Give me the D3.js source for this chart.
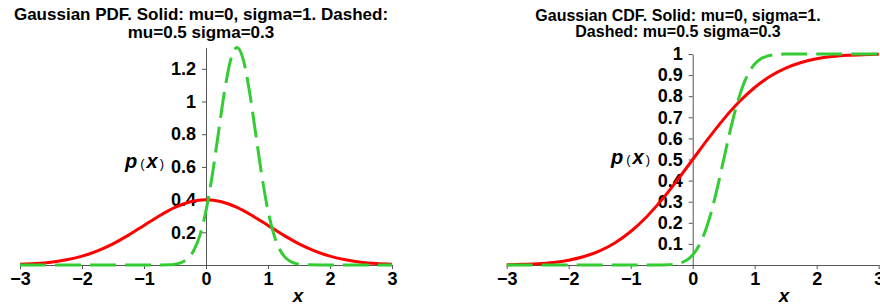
<!DOCTYPE html>
<html>
<head>
<meta charset="utf-8">
<script src="https://cdn.jsdelivr.net/npm/d3@7"></script>
<style>
  html, body { margin: 0; padding: 0; background: #fff; }
  svg { display: block; }
  text { font-family: "Liberation Sans", Arial, Helvetica, sans-serif; }
</style>
</head>
<body>
<svg id="chart" width="880" height="305"></svg>
<script>
// ---- Data ----
const solidX = [-3,-2.75,-2.5,-2.25,-2,-1.75,-1.5,-1.25,-1,-0.75,-0.5,-0.25,0,0.25,0.5,0.75,1,1.25,1.5,1.75,2,2.25,2.5,2.75,3];
const pdfSolid = [0.0044,0.0091,0.0175,0.0317,0.0540,0.0863,0.1295,0.1826,0.2420,0.3011,0.3521,0.3867,0.3989,0.3867,0.3521,0.3011,0.2420,0.1826,0.1295,0.0863,0.0540,0.0317,0.0175,0.0091,0.0044];
const cdfSolid = [0.0013,0.0030,0.0062,0.0122,0.0228,0.0401,0.0668,0.1056,0.1587,0.2266,0.3085,0.4013,0.5,0.5987,0.6915,0.7734,0.8413,0.8944,0.9332,0.9599,0.9772,0.9878,0.9938,0.9970,0.9987];

const dashedX = [-3,-1,-0.6,-0.5,-0.4,-0.3,-0.2,-0.1,0,0.1,0.2,0.3,0.4,0.5,0.6,0.7,0.8,0.9,1.0,1.1,1.2,1.3,1.4,1.5,1.6,2,3];
const pdfDashed = [0,0,0.0016,0.0051,0.0148,0.0380,0.0874,0.1800,0.3317,0.5467,0.8066,1.0648,1.2580,1.3298,1.2580,1.0648,0.8066,0.5467,0.3317,0.1800,0.0874,0.0380,0.0148,0.0051,0.0016,0,0];
const cdfDashed = [0,0,0.0001,0.0004,0.0013,0.0038,0.0098,0.0228,0.0478,0.0912,0.1587,0.2525,0.3694,0.5,0.6306,0.7475,0.8413,0.9088,0.9522,0.9772,0.9902,0.9962,0.9987,0.9996,0.9999,1,1];

const xTicks = [-3,-2,-1,0,1,2,3];
const xTickLabels = ["\u22123","\u22122","\u22121","0","1","2","3"];
const pdfYTicks = [0.2,0.4,0.6,0.8,1,1.2];
const pdfYTickLabels = ["0.2","0.4","0.6","0.8","1","1.2"];
const cdfYTicks = [0.1,0.2,0.3,0.4,0.5,0.6,0.7,0.8,0.9,1];
const cdfYTickLabels = ["0.1","0.2","0.3","0.4","0.5","0.6","0.7","0.8","0.9","1"];

const pdfTitle = ["Gaussian PDF. Solid: mu=0, sigma=1. Dashed:", "mu=0.5 sigma=0.3"];
const cdfTitle = ["Gaussian CDF. Solid: mu=0, sigma=1.", "Dashed: mu=0.5 sigma=0.3"];

// ---- Drawing ----
const svg = d3.select("#chart");

function panel(cfg) {
  const g = svg.append("g");
  const x = d3.scaleLinear().domain([-3, 3]).range(cfg.xr);
  const y = d3.scaleLinear().domain(cfg.yd).range(cfg.yr);

  // title
  cfg.title.forEach((t, i) => {
    g.append("text")
      .attr("x", cfg.titleX).attr("y", cfg.titleY[i])
      .attr("text-anchor", "middle")
      .attr("font-weight", "bold")
      .attr("font-size", cfg.titleSize)
      .attr("fill", "#000")
      .text(t);
  });

  // axes
  const xAxis = d3.axisBottom(x).tickValues(xTicks)
    .tickFormat((d, i) => xTickLabels[i]).tickSize(4).tickSizeOuter(0).tickPadding(3);
  const yAxis = d3.axisLeft(y).tickValues(cfg.yTicks)
    .tickFormat((d, i) => cfg.yLabels[i]).tickSize(4).tickSizeOuter(0).tickPadding(6);

  const gx = g.append("g").attr("transform", `translate(0,${y(0)})`).call(xAxis);
  const gy = g.append("g").attr("transform", `translate(${x(0)},0)`).call(yAxis);
  [gx, gy].forEach(a => {
    a.select(".domain").attr("stroke", "#555").attr("stroke-width", 1);
    a.selectAll(".tick line").attr("stroke", "#555");
    a.selectAll(".tick text")
      .attr("fill", "#000")
      .attr("font-size", 18)
      .attr("font-weight", "bold")
      .attr("font-family", "\"Liberation Sans\", Arial, Helvetica, sans-serif");
  });

  // curves
  const line = d3.line().curve(d3.curveMonotoneX).x(d => x(d[0])).y(d => y(d[1]));
  const solid = cfg.solidX.map((v, i) => [v, cfg.solidY[i]]);
  const dashed = cfg.dashedX.map((v, i) => [v, cfg.dashedY[i]]);
  g.append("path").datum(solid).attr("d", line)
    .attr("fill", "none").attr("stroke", "#ff0000").attr("stroke-width", 3);
  g.append("path").datum(dashed).attr("d", line)
    .attr("fill", "none").attr("stroke", "#33cc33").attr("stroke-width", 3)
    .attr("stroke-dasharray", "26,9");

  // y-axis label p(x)
  const yl = g.append("text")
    .attr("x", cfg.pxX).attr("y", cfg.pxY)
    .attr("fill", "#000");
  yl.append("tspan").attr("font-style", "italic").attr("font-weight", "bold").attr("font-size", 20).text("p");
  yl.append("tspan").attr("font-size", 13).attr("dx", 3).text("(");
  yl.append("tspan").attr("font-style", "italic").attr("font-weight", "bold").attr("font-size", 20).attr("dx", 2).text("x");
  yl.append("tspan").attr("font-size", 13).attr("dx", 2).text(")");

  // x-axis label
  g.append("text")
    .attr("x", cfg.xlX).attr("y", 302)
    .attr("text-anchor", "middle")
    .attr("font-style", "italic").attr("font-weight", "bold").attr("font-size", 19)
    .attr("fill", "#000")
    .text("x");
}

panel({
  xr: [20, 392], yd: [0, 1.3298], yr: [265, 47.6],
  yTicks: pdfYTicks, yLabels: pdfYTickLabels,
  solidX: solidX, solidY: pdfSolid, dashedX: dashedX, dashedY: pdfDashed,
  title: pdfTitle, titleX: 201, titleY: [20, 38], titleSize: 17,
  pxX: 125, pxY: 168, xlX: 298
});

panel({
  xr: [506.7, 878.7], yd: [0, 1], yr: [265, 54],
  yTicks: cdfYTicks, yLabels: cdfYTickLabels,
  solidX: solidX, solidY: cdfSolid, dashedX: dashedX, dashedY: cdfDashed,
  title: cdfTitle, titleX: 678, titleY: [21, 37], titleSize: 16,
  pxX: 611, pxY: 164, xlX: 784
});
</script>
</body>
</html>
